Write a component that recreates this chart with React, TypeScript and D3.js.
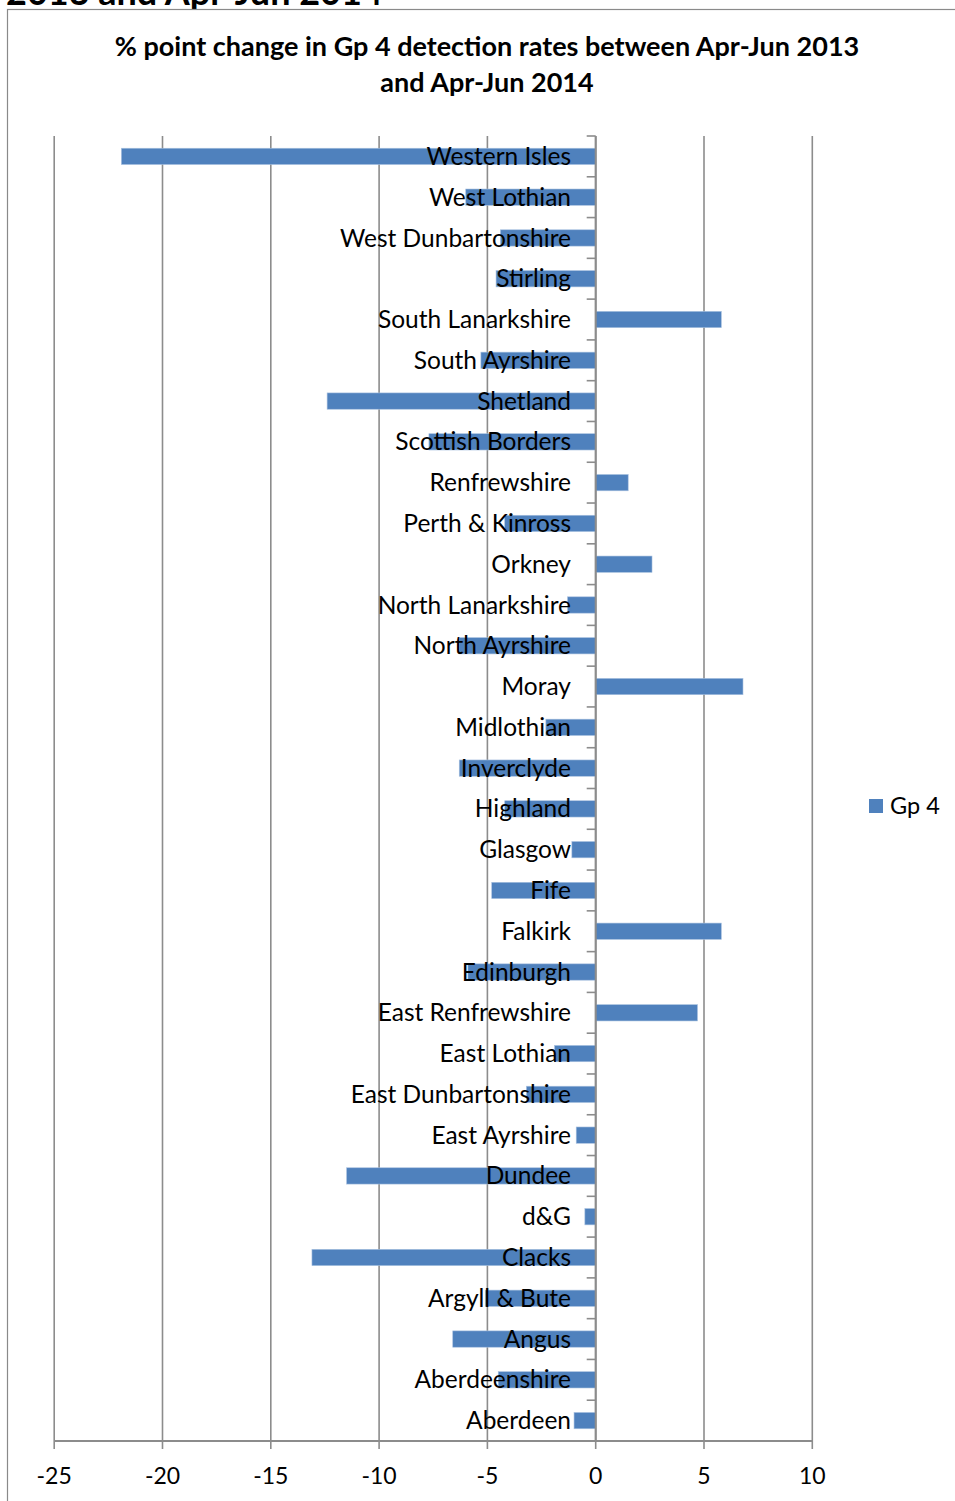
import * as d3 from "d3";

// displayed top to bottom
const areas = [
  "Western Isles", "West Lothian", "West Dunbartonshire", "Stirling",
  "South Lanarkshire", "South Ayrshire", "Shetland", "Scottish Borders",
  "Renfrewshire", "Perth & Kinross", "Orkney", "North Lanarkshire",
  "North Ayrshire", "Moray", "Midlothian", "Inverclyde", "Highland",
  "Glasgow", "Fife", "Falkirk", "Edinburgh", "East Renfrewshire",
  "East Lothian", "East Dunbartonshire", "East Ayrshire", "Dundee", "d&G",
  "Clacks", "Argyll & Bute", "Angus", "Aberdeenshire", "Aberdeen",
];
const gp4Change = [
  -21.9, -6.0, -4.4, -4.6, 5.8, -5.3, -12.4, -7.7,
  1.5, -4.2, 2.6, -1.3, -6.3, 6.8, -2.3, -6.3, -4.2,
  -1.1, -4.8, 5.8, -5.9, 4.7, -1.9, -3.2, -0.9, -11.5, -0.5,
  -13.1, -5.1, -6.6, -4.5, -1.0,
];
const xTicks = [-25, -20, -15, -10, -5, 0, 5, 10];

const W = 955;
const H = 1501;
const font = "Lato, Carlito, Calibri, sans-serif";
const grid = "#8c8c8c";
const blue = "#4f81bd";

export default function App() {
  const x = d3.scaleLinear().domain([-25, 10]).range([54.2, 812.3]);
  const y = d3.scaleBand<string>().domain(areas).range([136, 1441]).padding(0);
  const step = y.step();
  const barH = step * 0.4;
  const x0 = x(0);

  return (
    <svg
      width={W}
      height={H}
      viewBox={`0 0 ${W} ${H}`}
      style={{ position: "absolute", left: 0, top: 0, background: "#fff" }}
    >
      {/* heading of the page, cut off above */}
      <text x={6} y={5} fontFamily={font} fontWeight="bold" fontSize={36} fill="#000">
        2013 and Apr-Jun 2014
      </text>
      {/* chart border */}
      <rect x={7.5} y={9.5} width={W} height={H} fill="#fff" stroke="#8a8a8a" strokeWidth={1.2} />

      {/* Title */}
      <text textAnchor="middle" fontFamily={font} fontWeight="bold" fontSize={27} fill="#000">
        <tspan x={487} y={56}>% point change in Gp 4 detection rates between Apr-Jun 2013</tspan>
        <tspan x={487} y={92}>and Apr-Jun 2014</tspan>
      </text>

      {/* Vertical gridlines */}
      {xTicks.map((t) => (
        <line key={t} x1={x(t)} x2={x(t)} y1={136} y2={1449} stroke={grid} strokeWidth={1.6} />
      ))}
      {/* Bottom axis line */}
      <line x1={x(-25)} x2={x(10)} y1={1441} y2={1441} stroke={grid} strokeWidth={2} />
      {xTicks.map((t) => (
        <text
          key={t}
          x={x(t)}
          y={1484}
          textAnchor="middle"
          fontFamily={font}
          fontSize={23}
          fill="#000"
        >
          {t}
        </text>
      ))}

      {/* Bars */}
      {areas.map((a, i) => {
        const v = gp4Change[i];
        const cy = (y(a) ?? 0) + step / 2;
        return (
          <rect
            key={a}
            x={Math.min(x(v), x0)}
            y={cy - barH / 2}
            width={Math.abs(x(v) - x0)}
            height={barH}
            fill={blue}
            stroke="#a9c1e0"
            strokeWidth={0.6}
          />
        );
      })}

      {/* Category axis with ticks */}
      <line x1={x0} x2={x0} y1={136} y2={1441} stroke={grid} strokeWidth={2} />
      {areas.map((a) => (
        <line
          key={a}
          x1={x0 - 9}
          x2={x0}
          y1={y(a) ?? 0}
          y2={y(a) ?? 0}
          stroke={grid}
          strokeWidth={1.6}
        />
      ))}

      {/* Category labels */}
      {areas.map((a) => (
        <text
          key={a}
          x={571}
          y={(y(a) ?? 0) + step / 2}
          dy="0.35em"
          textAnchor="end"
          fontFamily={font}
          fontSize={24.5}
          fill="#000"
        >
          {a}
        </text>
      ))}

      {/* Legend */}
      <rect x={869} y={799} width={14} height={14} fill={blue} />
      <text x={890} y={806} dy="0.35em" fontFamily={font} fontSize={23.5} fill="#000">
        Gp 4
      </text>
    </svg>
  );
}
